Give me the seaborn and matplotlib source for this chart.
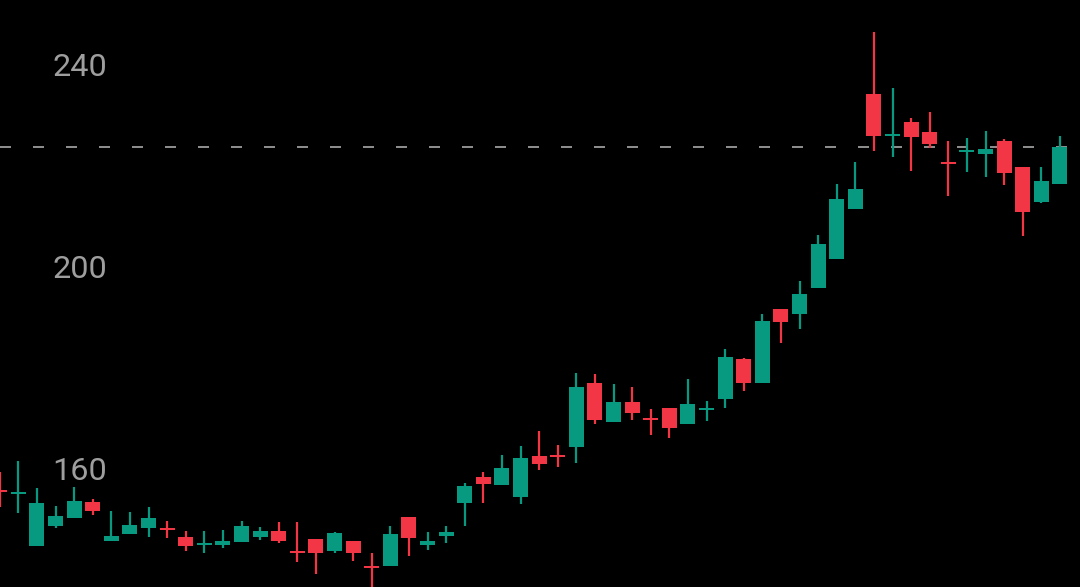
import numpy as np
import pandas as pd
import matplotlib
matplotlib.use("Agg")
import matplotlib.pyplot as plt
import seaborn as sns

sns.set_theme(style="dark")
plt.rcParams['font.family'] = ['Roboto', 'DejaVu Sans']

# OHLC values (one candle per session)
opens = [156.2, 155.4, 145.1, 149.1, 150.7, 153.9, 146.1, 147.5, 148.7, 148.7,
         146.9, 145.4, 145.4, 145.9, 146.9, 148.1, 144.2, 146.5, 144.2, 146.1,
         141.2, 141.2, 150.9, 145.4, 147.1, 153.7, 158.8, 157.2, 154.9, 163.0,
         163.2, 164.8, 177.4, 169.7, 173.7, 170.5, 172.5, 169.3, 172.1, 174.3,
         182.2, 177.4, 192.1, 191.1, 196.2, 202.0, 211.9, 234.7, 226.3, 229.1,
         227.1, 221.2, 223.2, 222.8, 225.3, 220.2, 213.3, 216.8]
highs = [159.8, 162.0, 156.6, 153.1, 156.8, 154.5, 152.1, 151.9, 152.9, 150.1,
         148.1, 148.1, 148.3, 150.1, 148.9, 149.9, 149.9, 146.5, 147.9, 146.1,
         143.8, 149.1, 150.9, 147.9, 149.1, 157.6, 159.8, 163.2, 165.0, 167.9,
         165.2, 179.4, 179.2, 177.2, 176.6, 172.3, 172.5, 178.2, 173.9, 184.2,
         182.4, 191.1, 192.1, 197.6, 206.7, 216.8, 221.2, 246.9, 235.8, 229.9,
         231.1, 225.3, 225.9, 227.3, 225.7, 220.2, 220.2, 226.3]
lows = [152.9, 151.7, 145.1, 148.7, 150.7, 151.3, 146.1, 147.5, 146.9, 146.7,
        144.2, 143.8, 144.8, 145.9, 146.3, 145.7, 142.0, 139.6, 143.8, 142.2,
        136.4, 141.2, 143.2, 144.4, 145.7, 149.1, 153.7, 157.2, 153.5, 160.2,
        160.8, 161.6, 169.3, 169.7, 170.1, 167.1, 166.5, 169.3, 169.9, 172.5,
        175.8, 177.4, 185.3, 188.1, 196.2, 202.0, 211.9, 223.4, 222.2, 219.4,
        224.0, 214.5, 219.2, 218.2, 216.6, 206.5, 213.1, 216.8]
closes = [155.8, 155.8, 153.7, 151.1, 154.1, 152.1, 147.1, 149.3, 150.7, 148.3,
          145.1, 145.7, 146.1, 149.1, 148.1, 146.1, 143.8, 143.8, 147.7, 143.8,
          140.8, 147.5, 146.7, 146.1, 147.9, 157.0, 157.4, 160.6, 162.6, 161.4,
          162.8, 176.6, 170.1, 173.7, 171.5, 170.1, 168.5, 173.3, 172.5, 182.6,
          177.4, 189.7, 189.5, 195.0, 205.0, 213.9, 215.8, 226.3, 226.7, 226.1,
          224.8, 220.8, 223.6, 223.8, 219.0, 211.3, 217.4, 224.2]
y_ticks = [160, 200, 240]
last_price = closes[-1]

df = pd.DataFrame({"open": opens, "high": highs, "low": lows, "close": closes})
df["idx"] = np.arange(len(df))
df["up"] = df["close"] >= df["open"]

up_color = "#089981"
down_color = "#F23645"
colors = np.where(df["up"], up_color, down_color)

fig, ax = plt.subplots(figsize=(10.8, 5.87), dpi=100)
fig.patch.set_facecolor("black")
ax.set_facecolor("black")
ax.set_position([0, 0, 1, 1])

# last price line
ax.axhline(last_price, color="#8c8c8c", linewidth=1.44, linestyle=(0, (5.5, 11)), zorder=1)

# wicks
ax.vlines(df["idx"], df["low"], df["high"], colors=colors, linewidth=1.6, zorder=2)

# bodies
body_bottom = df[["open", "close"]].min(axis=1)
body_height = (df["close"] - df["open"]).abs().clip(lower=0.4)
ax.bar(df["idx"], body_height, bottom=body_bottom, width=0.8, color=colors,
       edgecolor="none", zorder=3)

ax.set_xlim(0.016, 58.08)
ax.set_ylim(137.03, 253.27)

for v in y_ticks:
    ax.text(52 / 1080, v, str(v), transform=ax.get_yaxis_transform(),
            ha="left", va="center", color="#9e9e9e", fontsize=23.3, zorder=4)

ax.set_xticks([])
ax.set_yticks([])
for s in ax.spines.values():
    s.set_visible(False)
ax.grid(False)

plt.savefig("out.png", dpi=100, facecolor="black")
